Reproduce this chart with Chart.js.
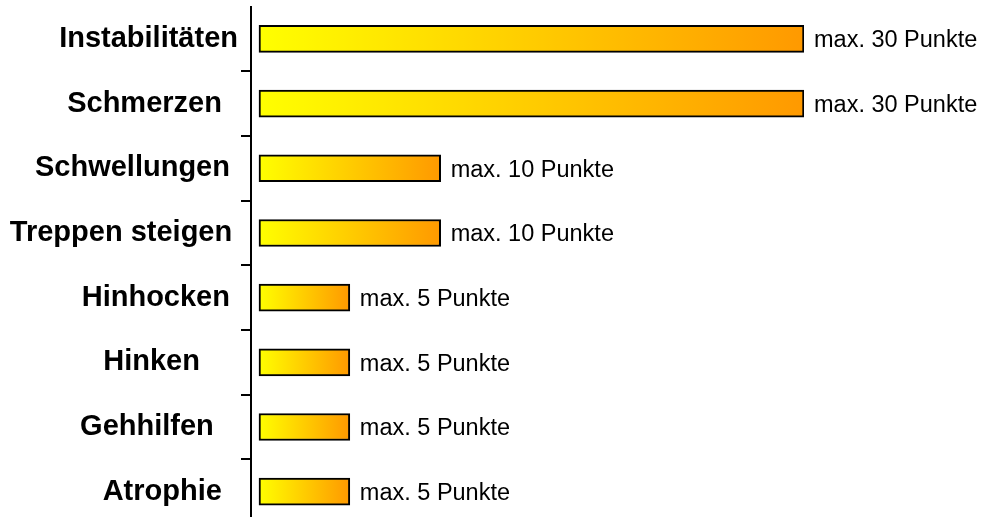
<!DOCTYPE html>
<html>
<head>
<meta charset="utf-8">
<script src="https://cdn.jsdelivr.net/npm/chart.js@4/dist/chart.umd.min.js"></script>
<style>
  html, body { margin: 0; padding: 0; background: #fff; overflow: hidden; }
  #wrap { width: 984px; height: 524px; position: relative; }
</style>
</head>
<body>
<div id="wrap"><canvas id="c"></canvas></div>
<script>
// Categories (trailing spaces keep the original label alignment)
const categories = [
  'Instabilitäten',
  'Schmerzen  ',
  'Schwellungen ',
  'Treppen steigen\u2009',
  'Hinhocken ',
  'Hinken    \u2009',
  'Gehhilfen   ',
  'Atrophie  '
];
// Maximum points per criterion
const maxPoints = [30, 30, 10, 10, 5, 5, 5, 5];
const unitText = 'Punkte';

// Yellow-to-orange gradient spanning each bar
function barGradient(ctx) {
  const chart = ctx.chart;
  if (!chart.chartArea || ctx.raw == null) return '#FFCC00';
  const xs = chart.scales.x;
  const x0 = xs.getPixelForValue(0);
  const x1 = xs.getPixelForValue(ctx.raw);
  const g = chart.ctx.createLinearGradient(x0, 0, x1, 0);
  g.addColorStop(0, '#FFFF00');
  g.addColorStop(1, '#FF9900');
  return g;
}

// Value labels "max. N Punkte" drawn right of each bar
const valueLabels = {
  id: 'valueLabels',
  afterDatasetsDraw(chart) {
    const ctx = chart.ctx;
    const meta = chart.getDatasetMeta(0);
    ctx.save();
    ctx.fillStyle = '#000';
    ctx.font = '23.5px "Liberation Sans", Arial, sans-serif';
    ctx.textBaseline = 'middle';
    ctx.textAlign = 'left';
    meta.data.forEach((bar, i) => {
      const text = 'max. ' + maxPoints[i] + ' ' + unitText;
      ctx.fillText(text, bar.x + 10, bar.y + 2);
    });
    ctx.restore();
  }
};

new Chart(document.getElementById('c'), {
  type: 'bar',
  data: {
    labels: categories,
    datasets: [{
      data: maxPoints,
      backgroundColor: barGradient,
      borderColor: '#000',
      borderWidth: 2,
      borderSkipped: false,
      barThickness: 27
    }]
  },
  options: {
    indexAxis: 'y',
    responsive: true,
    maintainAspectRatio: false,
    animation: false,
    layout: { padding: { top: 6.6, right: 180, bottom: 0, left: 0 } },
    plugins: { legend: { display: false }, tooltip: { enabled: false } },
    scales: {
      x: {
        display: false,
        min: -0.44,
        max: 30
      },
      y: {
        afterFit(scale) {
          scale.width = 251;
          scale.paddingTop = 0;
          scale.paddingBottom = 0;
        },
        border: { display: true, color: '#000', width: 2 },
        grid: {
          offset: true,
          drawOnChartArea: false,
          drawTicks: true,
          tickLength: 10,
          lineWidth: 2,
          color: (c) => c.index === 0 ? 'rgba(0,0,0,0)' : '#000'
        },
        ticks: {
          color: '#000',
          padding: 3,
          font: { family: '"Liberation Sans", Arial, sans-serif', size: 29, weight: 'bold' }
        }
      }
    }
  },
  plugins: [valueLabels]
});
</script>
</body>
</html>
